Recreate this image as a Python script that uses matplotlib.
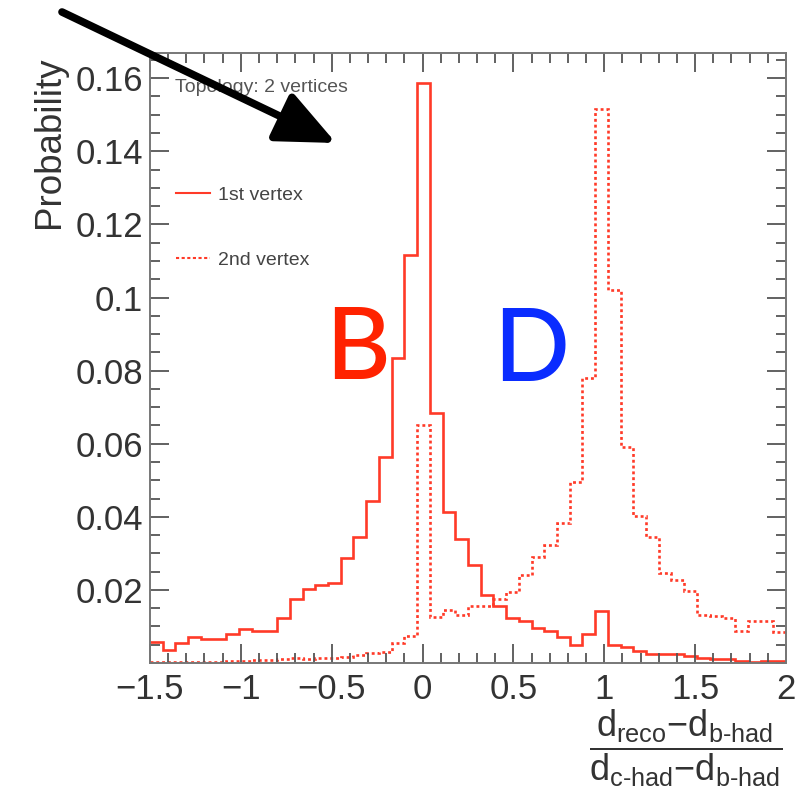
import numpy as np
import matplotlib
matplotlib.use('Agg')
import matplotlib.pyplot as plt
from matplotlib.lines import Line2D
from matplotlib.patches import FancyArrowPatch
from matplotlib.ticker import MultipleLocator, FixedLocator, FixedFormatter

plt.rcParams['font.family'] = ['Liberation Sans', 'DejaVu Sans']
plt.rcParams['mathtext.fontset'] = 'custom'
plt.rcParams['mathtext.rm'] = 'Liberation Sans'
plt.rcParams['mathtext.it'] = 'Liberation Sans'

# binning of the histograms
x_lo, x_hi, n_bins = -1.5, 2.0, 50

# bin contents
first_vertex = [0.0058, 0.0036, 0.0054, 0.0070, 0.0065, 0.0065, 0.0079, 0.0093, 0.0088, 0.0088,
                0.0122, 0.0174, 0.0202, 0.0213, 0.0220, 0.0288, 0.0346, 0.0443, 0.0564, 0.0834,
                0.1116, 0.1588, 0.0684, 0.0414, 0.0338, 0.0268, 0.0185, 0.0157, 0.0123, 0.0115,
                0.0097, 0.0087, 0.0070, 0.0050, 0.0080, 0.0141, 0.0050, 0.0043, 0.0032, 0.0025,
                0.0024, 0.0024, 0.0018, 0.0013, 0.0010, 0.0010, 0.0006, 0.0004, 0.0006, 0.0006]
second_vertex = [0.0002, 0.0002, 0.0003, 0.0003, 0.0004, 0.0004, 0.0005, 0.0006, 0.0008, 0.0009,
                 0.0011, 0.0013, 0.0012, 0.0014, 0.0014, 0.0017, 0.0022, 0.0027, 0.0031, 0.0054,
                 0.0074, 0.0651, 0.0125, 0.0146, 0.0130, 0.0156, 0.0156, 0.0174, 0.0194, 0.0242,
                 0.0291, 0.0322, 0.0382, 0.0494, 0.0780, 0.1515, 0.1021, 0.0591, 0.0403, 0.0344,
                 0.0246, 0.0226, 0.0197, 0.0132, 0.0129, 0.0124, 0.0087, 0.0115, 0.0115, 0.0086]

x_ticks = [-1.5, -1, -0.5, 0, 0.5, 1, 1.5, 2]
x_ticklabels = ['\u22121.5', '\u22121', '\u22120.5', '0', '0.5', '1', '1.5', '2']
y_ticks = [0.02, 0.04, 0.06, 0.08, 0.10, 0.12, 0.14, 0.16]
y_ticklabels = ['0.02', '0.04', '0.06', '0.08', '0.1', '0.12', '0.14', '0.16']

hist_col = '#ff3a28'
edges = np.linspace(x_lo, x_hi, n_bins + 1)

fig = plt.figure(figsize=(8.02, 7.99), dpi=100)
ax = fig.add_axes([0.187, 0.1702, 0.793, 0.7635])

ax.stairs(first_vertex, edges, baseline=None, color=hist_col, lw=1.9)
ax.stairs(second_vertex, edges, baseline=None, color=hist_col, lw=1.9,
          linestyle=(0, (1.1, 1.1)))

ax.set_xlim(x_lo, x_hi)
ax.set_ylim(0, 0.1669)

ax.xaxis.set_major_locator(FixedLocator(x_ticks))
ax.xaxis.set_major_formatter(FixedFormatter(x_ticklabels))
ax.xaxis.set_minor_locator(MultipleLocator(0.1))
ax.yaxis.set_major_locator(FixedLocator(y_ticks))
ax.yaxis.set_major_formatter(FixedFormatter(y_ticklabels))
ax.yaxis.set_minor_locator(MultipleLocator(0.005))

ax.tick_params(which='both', direction='in', top=True, right=True, color='#555555', width=1.3)
ax.tick_params(which='major', length=14, labelsize=25, labelcolor='#333333')
ax.tick_params(which='minor', length=7)
ax.tick_params(axis='x', pad=7)
ax.tick_params(axis='y', pad=5)
for sp in ax.spines.values():
    sp.set_color('#777777')
    sp.set_linewidth(1.4)

fig.text(50 / 802, 1 - 56 / 799, 'Probability', rotation=90, ha='center', va='top',
         fontsize=26.5, color='#333333')

fig.text(686 / 802, 1 - 748 / 799,
         r'$\dfrac{\mathrm{d}_{\mathrm{reco}}\mathrm{-}\mathrm{d}_{\text{b-had}}}'
         r'{\mathrm{d}_{\text{c-had}}\mathrm{-}\mathrm{d}_{\text{b-had}}}$',
         ha='center', va='center', fontsize=26, color='#333333')

ax.text(0.039, 0.943, 'Topology: 2 vertices', transform=ax.transAxes, ha='left', va='center',
        fontsize=14, color='#555555')

handles = [Line2D([], [], color=hist_col, lw=1.5),
           Line2D([], [], color=hist_col, lw=1.5, linestyle=(0, (1.5, 1.2)))]
leg = ax.legend(handles, ['1st vertex', '2nd vertex'], loc='upper left',
                bbox_to_anchor=(0.013, 0.81), frameon=False, fontsize=14,
                handlelength=1.75, handletextpad=0.4, labelspacing=2.45, labelcolor='#444444')

ax.text(-0.36, 0.0855, 'B', ha='center', va='center', fontsize=72, color='#ff2200',
        family='Lato', weight='medium')
ax.text(0.597, 0.0850, 'D', ha='center', va='center', fontsize=72, color='#0a2cff',
        family='Lato', weight='medium')

arrow = FancyArrowPatch((62 / 802, 1 - 12 / 799), (336 / 802, 1 - 143 / 799),
                        transform=fig.transFigure,
                        arrowstyle='-|>,head_length=0.9,head_width=0.4',
                        mutation_scale=40, lw=5.5, color='black', shrinkA=0, shrinkB=0)
fig.add_artist(arrow)

fig.savefig('out.png', dpi=100)
